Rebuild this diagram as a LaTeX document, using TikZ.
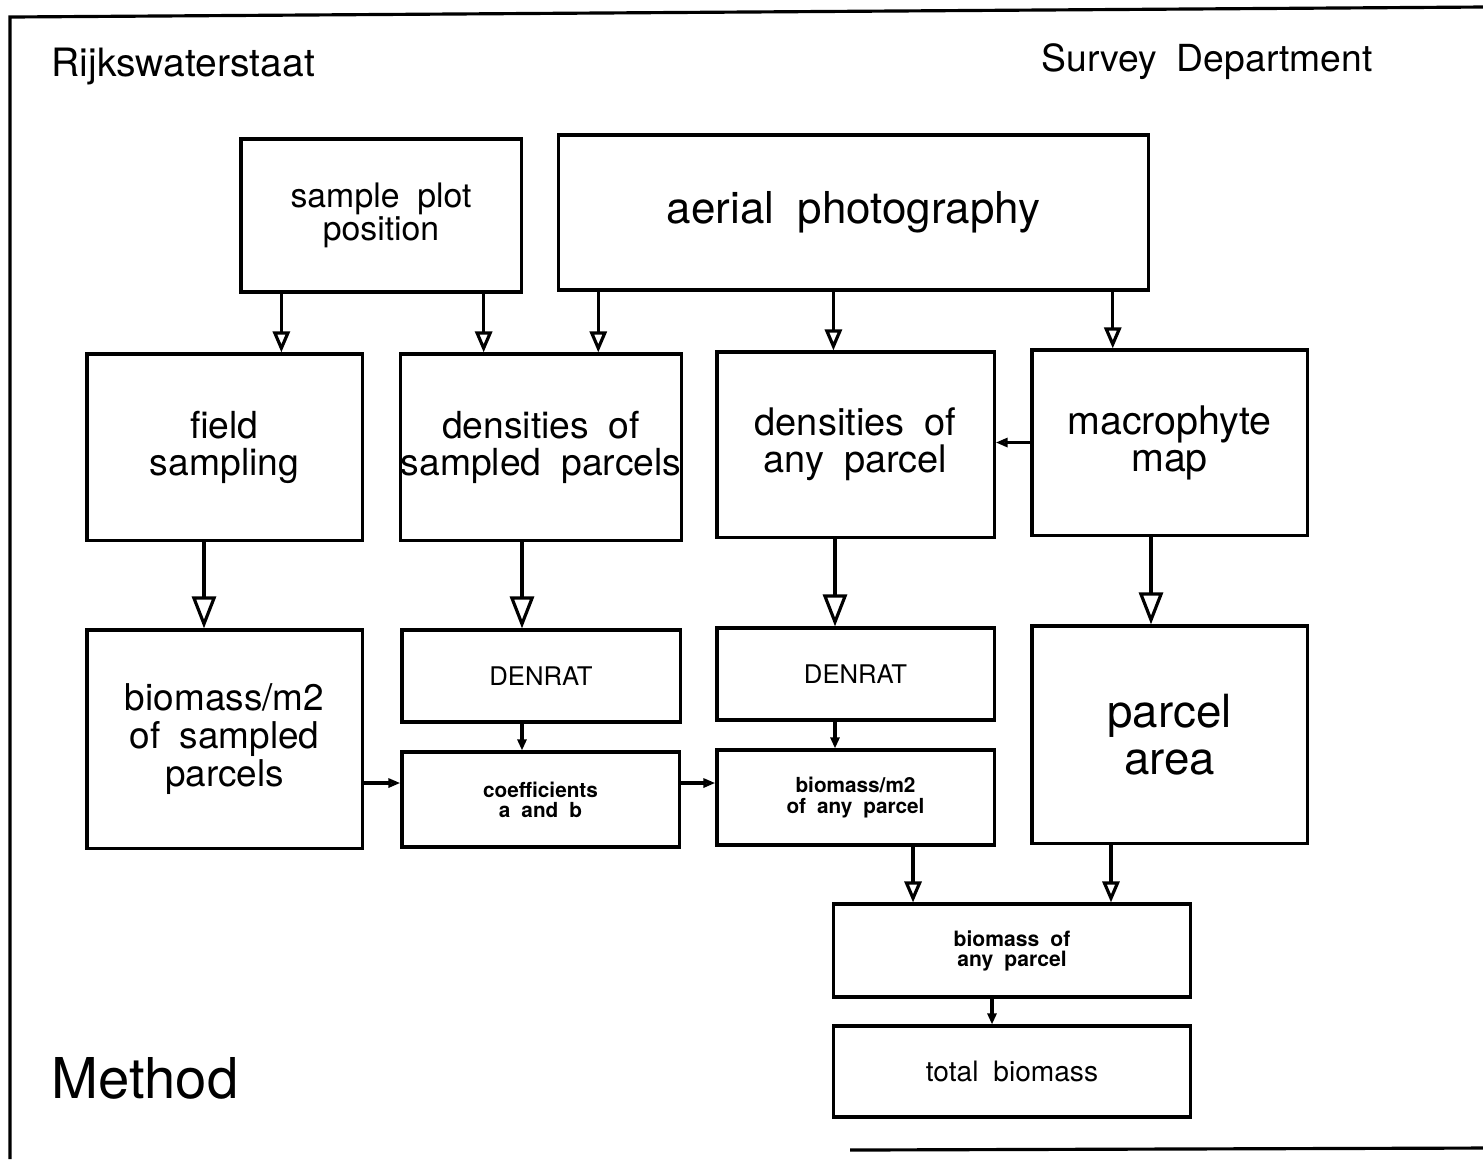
\documentclass[tikz,border=0pt]{standalone}
\usepackage{fontspec}
\setmainfont{TeX Gyre Heros}[WordSpace=1.9]
\usepackage{tikz}
\usetikzlibrary{arrows.meta, calc}

\begin{document}
\begin{tikzpicture}[x=0.01cm, y=-0.01cm, line width=0.9pt]
    \tikzstyle{box} = [draw, inner sep=0pt, text centered, align=center]
    \tikzstyle{head} = [anchor=west, inner sep=0pt]
    \tikzstyle{big} = [-{Triangle[open, length=0.32cm, width=0.24cm]}]
    \tikzstyle{mid} = [-{Triangle[open, length=0.21cm, width=0.17cm]}]
    \tikzstyle{tip} = [-{Triangle[open, length=0.12cm, width=0.09cm]}]
    \tikzstyle{dot} = [-{Triangle[length=0.11cm, width=0.09cm]}]
    \useasboundingbox (0,0) rectangle (1483,1159);
    % frame
    \draw (1483,7) -- (10,17) -- (10,1159);
    \draw (850,1150) -- (1483,1148);
    \node [head, font=\fontsize{11.1}{12}\selectfont] (rws) at (50,67) {Rijkswaterstaat};
    \node [head, font=\fontsize{10.6}{12}\selectfont] (sd) at (1040,62) {Survey Department};
    \node [head, font=\fontsize{16}{18}\selectfont] (meth) at (50,1078) {Method};
    % top row
    \node [box, minimum width=2.80cm, minimum height=1.53cm, font=\fontsize{9.6}{9.4}\selectfont] (spp) at (381,215.5) {sample plot\\position};
    \node [box, minimum width=5.89cm, minimum height=1.55cm, font=\fontsize{12.5}{14}\selectfont] (aerial) at (853.5,212.5) {aerial photography};
    % second row
    \node [box, minimum width=2.75cm, minimum height=1.86cm, font=\fontsize{10.6}{10.5}\selectfont] (field) at (224.5,447) {field\\sampling};
    \node [box, minimum width=2.78cm, minimum height=1.86cm, font=\fontsize{10.6}{10.5}\selectfont] (denss) at (541,447) {densities of\\sampled parcels};
    \node [box, minimum width=2.77cm, minimum height=1.85cm, font=\fontsize{10.8}{10.5}\selectfont] (densa) at (855.5,444.5) {densities of\\any parcel};
    \node [box, minimum width=2.75cm, minimum height=1.85cm, font=\fontsize{11.2}{10.5}\selectfont] (macro) at (1169.5,442.5) {macrophyte\\map};
    % third row
    \node [box, minimum width=2.75cm, minimum height=2.18cm, font=\fontsize{10.5}{10.7}\selectfont] (biom) at (224.5,739) {biomass/m2\\of sampled\\parcels};
    \node [box, minimum width=2.78cm, minimum height=0.92cm, font=\fontsize{7.3}{8}\selectfont] (denrat1) at (541,676) {DENRAT};
    \node [box, minimum width=2.77cm, minimum height=0.92cm, font=\fontsize{7.3}{8}\selectfont] (denrat2) at (855.5,674) {DENRAT};
    \node [box, minimum width=2.75cm, minimum height=2.17cm, font=\fontsize{13}{13.4}\selectfont] (parea) at (1169.5,734.5) {parcel\\area};
    \node [box, minimum width=2.77cm, minimum height=0.95cm, font=\fontsize{5.9}{5.7}\selectfont\bfseries] (coeff) at (540.5,799.5) {coefficients\\a and b};
    \node [box, minimum width=2.77cm, minimum height=0.95cm, font=\fontsize{5.9}{5.7}\selectfont\bfseries] (biomm2) at (855.5,797.5) {biomass/m2\\of any parcel};
    % bottom
    \node [box, minimum width=3.56cm, minimum height=0.93cm, font=\fontsize{6}{5.7}\selectfont\bfseries] (biomany) at (1012,950.5) {biomass of\\any parcel};
    \node [box, minimum width=3.56cm, minimum height=0.91cm, font=\fontsize{8}{9}\selectfont] (total) at (1012,1071.5) {total biomass};
    % arrows from the top row
    \draw [mid] ([xshift=0.42cm]spp.south west) coordinate (a1) -- (a1 |- field.north);
    \draw [mid] ([xshift=-0.39cm]spp.south east) coordinate (a2) -- (a2 |- denss.north);
    \draw [mid] ([xshift=0.41cm]aerial.south west) coordinate (a3) -- (a3 |- denss.north);
    \draw [mid] ([xshift=2.76cm]aerial.south west) coordinate (a4) -- (a4 |- densa.north);
    \draw [mid] ([xshift=-0.37cm]aerial.south east) coordinate (a5) -- (a5 |- macro.north);
    \draw [tip] (macro.west) -- (macro.west -| densa.east);
    % arrows from the second row
    \draw [big] ([xshift=-0.205cm]field.south) coordinate (b1) -- (b1 |- biom.north);
    \draw [big] ([xshift=-0.19cm]denss.south) coordinate (b2) -- (b2 |- denrat1.north);
    \draw [big] ([xshift=-0.205cm]densa.south) coordinate (b3) -- (b3 |- denrat2.north);
    \draw [big] ([xshift=-0.185cm]macro.south) coordinate (b4) -- (b4 |- parea.north);
    % arrows in the third row
    \draw [dot] (b2 |- denrat1.south) -- (b2 |- coeff.north);
    \draw [dot] (b3 |- denrat2.south) -- (b3 |- biomm2.north);
    \coordinate (h1) at ([yshift=0.165cm]coeff.west);
    \draw [tip] (h1 -| biom.east) -- (h1);
    \draw [tip] (h1 -| coeff.east) -- (h1 -| biomm2.west);
    % arrows to the bottom
    \draw [mid] ([xshift=0.575cm]biomm2.south) coordinate (c1) -- (c1 |- biomany.north);
    \draw [mid] ([xshift=-0.585cm]parea.south) coordinate (c2) -- (c2 |- biomany.north);
    \draw [dot] ([xshift=-0.20cm]biomany.south) coordinate (c3) -- (c3 |- total.north);
\end{tikzpicture}
\end{document}
